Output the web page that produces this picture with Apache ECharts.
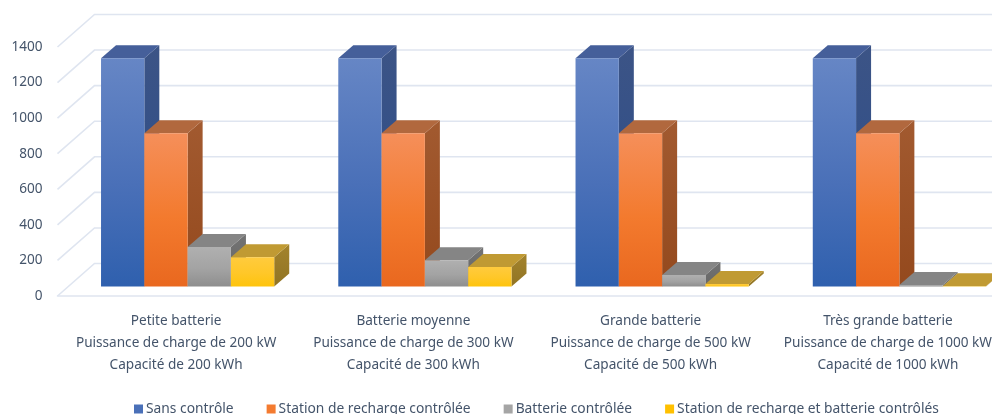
<!DOCTYPE html>
<html>
<head>
<meta charset="utf-8">
<style>
  html, body { margin: 0; background: #fff; }
  #chart { width: 992px; height: 414px; }
</style>
<script src="https://cdn.jsdelivr.net/npm/echarts@6/dist/echarts.min.js"></script>
</head>
<body>
<div id="chart"></div>
<script>
const categories = [
  'Petite batterie\nPuissance de charge de 200 kW\nCapacité de 200 kWh',
  'Batterie moyenne\nPuissance de charge de 300 kW\nCapacité de 300 kWh',
  'Grande batterie\nPuissance de charge de 500 kW\nCapacité de 500 kWh',
  'Très grande batterie\nPuissance de charge de 1000 kW\nCapacité de 1000 kWh'
];
const yTicks = [0, 200, 400, 600, 800, 1000, 1200, 1400];

const sansControle = [1283, 1283, 1283, 1283];
const stationControlee = [862, 862, 862, 862];
const batterieControlee = [222, 148, 65, 8];
const stationEtBatterie = [165, 110, 14, 1];

const textColor = '#44546a';
const gridColor = '#dfe5f0';

// 3D look: how far the bars and the back wall sit behind the axis plane
const wallDepth = [37, -32.5];
const barOffset = [11.5, -9.5];
const barDepth = [15, -13];
const barRatio = 0.1825;

const palette = [
  { legend: '#4a70b8', top: '#6686c5', mid: '#4a70b8', bottom: '#2f60ae', cap: '#455f9a', sideTop: '#3c5486', sideBottom: '#2a4c8a' },
  { legend: '#f47b30', top: '#f58f5a', mid: '#f37a2e', bottom: '#e9681f', cap: '#b1683e', sideTop: '#a25a30', sideBottom: '#94491d' },
  { legend: '#a5a5a5', top: '#b0b0b0', mid: '#a3a3a3', bottom: '#8e8e8e', cap: '#858585', sideTop: '#737373', sideBottom: '#666666' },
  { legend: '#ffc000', top: '#ffcb3e', mid: '#ffc728', bottom: '#fec40c', cap: '#c09a33', sideTop: '#a3832c', sideBottom: '#917424' }
];

function vGrad(c1, c2, c3) {
  const stops = [{ offset: 0, color: c1 }];
  if (c3) stops.push({ offset: 0.55, color: c3 });
  stops.push({ offset: 1, color: c2 });
  return new echarts.graphic.LinearGradient(0, 0, 0, 1, stops);
}

function renderBar(slot) {
  const c = palette[slot];
  return function (params, api) {
    const top = api.coord([api.value(0), api.value(1)]);
    const base = api.coord([api.value(0), 0]);
    const w = api.size([1, 0])[0] * barRatio;
    const x0 = top[0] + (slot - 2) * w + barOffset[0];
    const x1 = x0 + w;
    const y0 = top[1] + barOffset[1];
    const y1 = base[1] + barOffset[1];
    const dx = barDepth[0];
    const dy = barDepth[1];
    return {
      type: 'group',
      children: [
        {
          type: 'polygon',
          shape: { points: [[x1, y0], [x1 + dx, y0 + dy], [x1 + dx, y1 + dy], [x1, y1]] },
          style: { fill: vGrad(c.sideTop, c.sideBottom) }
        },
        {
          type: 'polygon',
          shape: { points: [[x0, y0], [x0 + dx, y0 + dy], [x1 + dx, y0 + dy], [x1, y0]] },
          style: { fill: c.cap }
        },
        {
          type: 'rect',
          shape: { x: x0, y: y0, width: w, height: y1 - y0 },
          style: { fill: vGrad(c.top, c.bottom, c.mid) }
        }
      ]
    };
  };
}

function renderWallLine(params, api) {
  const p = api.coord([0, api.value(1)]);
  const left = params.coordSys.x;
  const right = left + params.coordSys.width;
  return {
    type: 'polyline',
    shape: {
      points: [
        [left, p[1]],
        [left + wallDepth[0], p[1] + wallDepth[1]],
        [right + wallDepth[0], p[1] + wallDepth[1]]
      ]
    },
    style: { fill: 'none', stroke: gridColor, lineWidth: 1.6 }
  };
}

function barSeries(name, values, slot) {
  return {
    name: name,
    type: 'custom',
    renderItem: renderBar(slot),
    clip: false,
    z: 3,
    itemStyle: { color: palette[slot].legend },
    encode: { x: 0, y: 1 },
    data: values.map((v, i) => [i, v])
  };
}

const chart = echarts.init(document.getElementById('chart'));
chart.setOption({
  animation: false,
  backgroundColor: '#fff',
  textStyle: { fontFamily: '"Noto Sans", sans-serif' },
  grid: { left: 57.5, top: 47, width: 949, height: 249, containLabel: false, outerBoundsMode: 'none' },
  legend: {
    left: 134,
    top: 402,
    icon: 'rect',
    itemWidth: 9,
    itemHeight: 9,
    itemGap: 33,
    padding: 0,
    selectedMode: false,
    data: ['Sans contrôle', 'Station de recharge contrôlée', 'Batterie contrôlée', 'Station de recharge et batterie contrôlés'],
    textStyle: { color: textColor, fontSize: 13.8, padding: [0, 0, 0, -2] }
  },
  xAxis: {
    type: 'category',
    data: categories,
    axisLine: { show: true, lineStyle: { color: gridColor, width: 1.6 } },
    axisTick: { show: false },
    axisLabel: { color: textColor, fontSize: 13.6, lineHeight: 22, margin: 14, interval: 0 }
  },
  yAxis: {
    type: 'value',
    min: 0,
    max: 1400,
    interval: 200,
    axisLine: { show: false },
    axisTick: { show: false },
    splitLine: { show: false },
    axisLabel: { color: textColor, fontSize: 13.6, margin: 15, formatter: v => String(v) }
  },
  series: [
    {
      type: 'custom',
      renderItem: renderWallLine,
      clip: false,
      silent: true,
      z: 1,
      encode: { x: 0, y: 1 },
      data: yTicks.map(t => [0, t])
    },
    barSeries('Sans contrôle', sansControle, 0),
    barSeries('Station de recharge contrôlée', stationControlee, 1),
    barSeries('Batterie contrôlée', batterieControlee, 2),
    barSeries('Station de recharge et batterie contrôlés', stationEtBatterie, 3)
  ]
});
</script>
</body>
</html>
